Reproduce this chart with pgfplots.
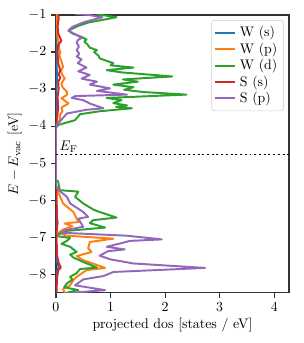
\documentclass[border=0pt]{standalone}
\usepackage{pgfplots}
\pgfplotsset{compat=1.18}
\usetikzlibrary{calc}
\definecolor{tabblue}{HTML}{1F77B4}
\definecolor{taborange}{HTML}{FF7F0E}
\definecolor{tabgreen}{HTML}{2CA02C}
\definecolor{tabred}{HTML}{D62728}
\definecolor{tabpurple}{HTML}{9467BD}
\begin{document}
\begin{tikzpicture}
\begin{axis}[
  scale only axis,
  width=167.8pt, height=200pt,
  xmin=0, xmax=4.27, ymin=-8.5, ymax=-1,
  xtick={0,1,2,3,4}, ytick={-8,-7,-6,-5,-4,-3,-2,-1},
  tick align=outside, xtick pos=left, ytick pos=left,
  major tick length=3.5pt,
  axis line style={black!80, line width=1pt},
  every tick/.style={black!80, line width=0.8pt},
  xlabel={projected dos [states / eV]},
  ylabel={$E - E_{\mathrm{vac}}$ [eV]},
  xlabel style={yshift=2pt},
  ylabel style={yshift=-2pt},
  legend style={at={(0.978,0.982)}, anchor=north east, draw=black!20, rounded corners=2pt, font=\normalsize, row sep=-1.2pt, inner xsep=2pt, inner ysep=2.5pt, nodes={inner xsep=2.5pt}},
  legend image code/.code={\draw[#1, line width=1.4pt] (0pt,0pt) -- (14.5pt,0pt);},
  legend cell align=left,
  clip=true,
  every axis plot/.append style={line width=1.4pt, line join=round},
]
\addplot[tabblue] coordinates {(0.01,-0.95) (0.01,-2.3) (0.02,-2.6) (0.01,-3.0) (0.0,-3.97) (0,-7.6) (0.05,-7.8) (0.01,-7.95) (0.0,-8.6)};
\addlegendentry{W (s)}
\addplot[taborange] coordinates {(0.02,-0.95) (0.02,-1.5) (0.04,-1.7) (0.06,-1.8) (0.05,-1.9) (0.08,-2.0) (0.06,-2.1) (0.1,-2.25) (0.13,-2.4) (0.09,-2.5) (0.11,-2.6) (0.16,-2.71) (0.1,-2.85) (0.12,-2.95) (0.2,-3.07) (0.2,-3.16) (0.1,-3.25) (0.15,-3.3) (0.23,-3.39) (0.1,-3.5) (0.12,-3.6) (0.07,-3.7) (0.07,-3.84) (0.0,-3.97) (0,-5.7) (0.04,-5.78) (0.13,-6.09) (0.32,-6.32) (0.41,-6.59) (0.16,-6.63) (0.3,-6.7) (0.12,-6.8) (0.05,-6.88) (0.2,-6.96) (1.05,-7.04) (0.62,-7.13) (0.59,-7.3) (0.65,-7.4) (0.38,-7.51) (0.5,-7.62) (0.9,-7.83) (0.56,-7.89) (0.38,-8.07) (0.32,-8.15) (0.26,-8.3) (0.13,-8.4) (0.16,-8.5) (0.16,-8.6)};
\addlegendentry{W (p)}
\addplot[tabgreen] coordinates {(0.75,-0.98) (1.11,-1.06) (0.9,-1.12) (0.6,-1.2) (0.4,-1.3) (0.23,-1.42) (0.3,-1.5) (0.45,-1.58) (0.56,-1.66) (0.52,-1.72) (0.58,-1.8) (0.62,-1.88) (0.75,-1.95) (0.7,-2.0) (0.78,-2.1) (0.8,-2.17) (0.95,-2.25) (1.05,-2.3) (1.0,-2.36) (1.42,-2.42) (0.93,-2.49) (1.2,-2.55) (2.13,-2.66) (1.23,-2.74) (1.5,-2.8) (1.05,-2.88) (1.42,-2.95) (1.25,-3.02) (1.6,-3.08) (2.39,-3.15) (0.93,-3.24) (1.2,-3.3) (1.05,-3.38) (1.3,-3.44) (1.1,-3.48) (1.39,-3.52) (0.8,-3.6) (0.44,-3.68) (0.35,-3.84) (0.04,-3.97) (0,-4.05) (0,-5.45) (0.04,-5.5) (0.07,-5.73) (0.41,-5.77) (0.35,-5.91) (0.5,-6.09) (0.68,-6.25) (0.8,-6.32) (1.11,-6.47) (0.68,-6.54) (0.62,-6.62) (0.9,-6.74) (0.2,-6.83) (0.04,-6.92) (0.05,-6.98) (0.26,-7.02) (0.2,-7.1) (0.1,-7.18) (0.26,-7.26) (0.38,-7.4) (0.26,-7.47) (0.32,-7.55) (0.5,-7.67) (0.75,-7.82) (0.44,-7.86) (0.38,-7.97) (0.26,-8.07) (0.3,-8.15) (0.2,-8.25) (0.15,-8.35) (0.41,-8.43) (0.2,-8.5) (0.2,-8.6)};
\addlegendentry{W (d)}
\addplot[tabred] coordinates {(0.04,-0.95) (0.05,-1.1) (0.03,-1.3) (0.04,-1.5) (0.1,-1.7) (0.04,-1.8) (0.03,-2.0) (0.04,-2.3) (0.08,-2.5) (0.05,-2.6) (0.08,-2.7) (0.04,-2.8) (0.05,-3.0) (0.03,-3.2) (0.04,-3.5) (0.02,-3.8) (0,-3.97) (0,-5.6) (0.01,-5.8) (0.02,-6.5) (0.03,-6.6) (0.01,-6.9) (0.02,-7.5) (0.05,-7.7) (0.09,-7.82) (0.04,-7.9) (0.02,-8.1) (0.01,-8.5) (0.01,-8.6)};
\addlegendentry{S (s)}
\addplot[tabpurple] coordinates {(0.35,-0.97) (0.6,-1.0) (0.85,-1.06) (0.7,-1.12) (0.5,-1.2) (0.3,-1.32) (0.23,-1.42) (0.3,-1.48) (0.38,-1.54) (0.47,-1.62) (0.4,-1.68) (0.38,-1.75) (0.42,-1.85) (0.38,-1.95) (0.43,-2.05) (0.38,-2.12) (0.47,-2.2) (0.4,-2.3) (0.56,-2.42) (0.41,-2.52) (0.62,-2.62) (0.47,-2.72) (0.75,-2.8) (0.62,-2.88) (0.99,-2.98) (0.75,-3.05) (1.3,-3.15) (0.35,-3.19) (0.29,-3.24) (0.5,-3.3) (0.62,-3.39) (0.87,-3.52) (0.56,-3.56) (0.2,-3.66) (0.07,-3.88) (0.01,-3.97) (0,-4.05) (0,-5.6) (0.05,-5.73) (0.2,-5.91) (0.26,-6.09) (0.5,-6.32) (0.59,-6.45) (0.41,-6.5) (0.45,-6.6) (0.5,-6.72) (0.16,-6.81) (0.1,-6.88) (1.3,-6.96) (1.94,-7.06) (1.36,-7.1) (0.93,-7.26) (1.26,-7.33) (0.95,-7.38) (0.8,-7.5) (1.0,-7.6) (1.42,-7.71) (2.73,-7.83) (1.05,-7.94) (0.87,-8.05) (0.5,-8.14) (0.35,-8.3) (0.9,-8.43) (0.3,-8.5) (0.3,-8.6)};
\addlegendentry{S (p)}
\addplot[black, dotted, line width=1.2pt, forget plot] coordinates {(0,-4.765) (4.27,-4.765)};
\node[anchor=base west, inner sep=0pt] at (axis cs:0.06,-4.66) {$E_{\mathrm{F}}$};
\end{axis}
\pgfresetboundingbox
\path (current axis.south west) ++(-40.3pt,-36.2pt) rectangle ($(current axis.north east)+(10.8pt,10.8pt)$);
\end{tikzpicture}
\end{document}
